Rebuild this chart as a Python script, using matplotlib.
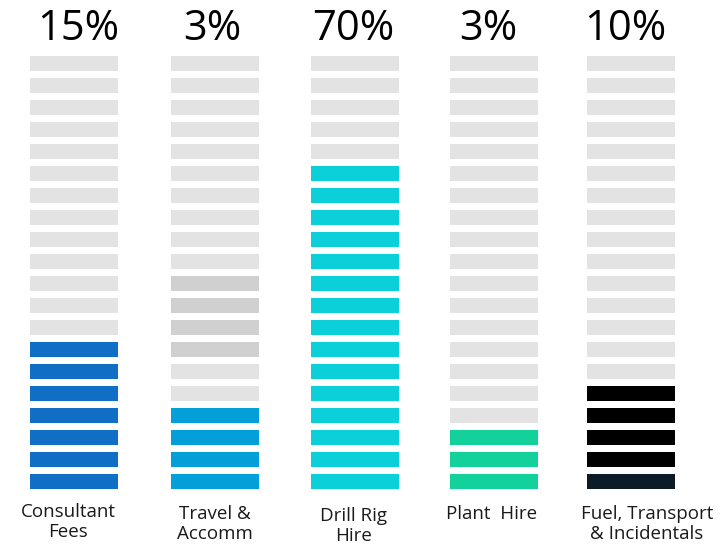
import matplotlib
matplotlib.use("Agg")
import matplotlib.pyplot as plt

# --- data ---
categories = ["Consultant\nFees", "Travel &\nAccomm", "Drill Rig\nHire", "Plant  Hire", "Fuel, Transport\n& Incidentals"]
percent_labels = ["15%", "3%", "70%", "3%", "10%"]
filled_rows = [7, 4, 15, 3, 5]
total_rows = 20
travel_shaded_rows = [6, 7, 8, 9]

# --- styles ---
fill_colors = ["#106EC4", "#039FD9", "#0BD0DA", "#12D19A", "#000000"]
empty_color = "#E3E3E3"
shaded_color = "#D0D0D0"
fuel_bottom_color = "#0B1C28"

plt.rcParams['font.family'] = ['Open Sans', 'DejaVu Sans']

fig = plt.figure(figsize=(7.23, 5.46), dpi=100)
ax = fig.add_axes([0, 0, 1, 1])

bar_w = 0.632
bar_h = 0.683
col_x = [0, 1.013, 2.018, 3.016, 4.0]   # slight uneven column spacing
pct_dx = [0.03, -0.02, -0.01, -0.04, -0.04]
label_dx = [-0.04, 0, -0.01, -0.02, 0.115]
label_y = [-1.0, -1.1, -1.2, -1.1, -1.1]
for i, n in enumerate(filled_rows):
    colors = []
    for r in range(total_rows):
        if r < n:
            c = fill_colors[i]
            if i == 4 and r == 0:
                c = fuel_bottom_color
        elif i == 1 and r in travel_shaded_rows:
            c = shaded_color
        else:
            c = empty_color
        colors.append(c)
    x = col_x[i]
    ax.barh(range(total_rows), [bar_w] * total_rows, left=x - bar_w / 2,
            height=bar_h, color=colors, linewidth=0)
    ax.text(x + pct_dx[i], 20.6, percent_labels[i], ha='center', va='center',
            fontsize=30, color='black')
    ax.text(x + label_dx[i], label_y[i], categories[i], ha='center', va='top',
            fontsize=13.5, color='#1a1a1a', linespacing=1.15)

ax.set_xlim(-0.531, 4.661)
ax.set_ylim(-2.96, 21.91)
ax.axis('off')

fig.savefig("out.png", dpi=100)
